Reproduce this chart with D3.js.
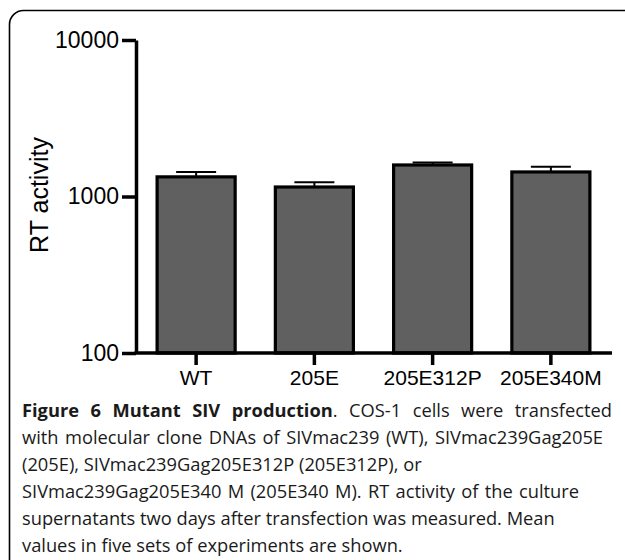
<!DOCTYPE html>
<html>
<head>
<meta charset="utf-8">
<script src="https://cdn.jsdelivr.net/npm/d3@7"></script>
<style>
  body { margin: 0; background: #fff; }
  svg { display: block; }
</style>
</head>
<body>
<div id="chart"></div>
<script>
// values (log scale)
const categories = ['WT', '205E', '205E312P', '205E340M'];
const means = [1335, 1150, 1590, 1435];
const errors = [100, 85, 60, 115];
const yTicks = [100, 1000, 10000];

const captionLines = [
    [{ t: 'Figure 6 Mutant SIV production', b: true }, { t: '. COS-1 cells were transfected' }],
    [{ t: 'with molecular clone DNAs of SIVmac239 (WT), SIVmac239Gag205E' }],
    [{ t: '(205E), SIVmac239Gag205E312P (205E312P), or' }],
    [{ t: 'SIVmac239Gag205E340 M (205E340 M). RT activity of the culture' }],
    [{ t: 'supernatants two days after transfection was measured. Mean' }],
    [{ t: 'values in five sets of experiments are shown.' }]
];
// right edge of each caption line in the figure (null = natural width)
const lineEnds = [612, 603, null, 579, null, null];

const width = 625, height = 560;

const svg = d3.select('#chart').append('svg')
    .attr('width', width)
    .attr('height', height);

// figure frame (only top & left visible in the crop)
svg.append('rect')
    .attr('x', 9.5).attr('y', 10.5)
    .attr('width', 660).attr('height', 620)
    .attr('rx', 14)
    .style('fill', 'none')
    .style('stroke', '#000')
    .style('stroke-width', 1.6);

const y = d3.scaleLog().domain([100, 10000]).range([353, 40]);
const x = d3.scaleBand().domain(categories).range([137, 610])
    .paddingInner(0.34).paddingOuter(0.17);

// bars
svg.append('g')
    .selectAll('rect')
    .data(categories)
    .join('rect')
    .attr('x', d => x(d))
    .attr('width', x.bandwidth())
    .attr('y', (d, i) => y(means[i]))
    .attr('height', (d, i) => y(100) - y(means[i]))
    .style('fill', '#606060')
    .style('stroke', '#000')
    .style('stroke-width', 3.2);

// error bars (upper only)
const err = svg.append('g').style('stroke', '#000').style('stroke-width', 2);
categories.forEach((c, i) => {
    const cx = x(c) + x.bandwidth() / 2;
    err.append('line')
        .attr('x1', cx).attr('x2', cx)
        .attr('y1', y(means[i])).attr('y2', y(means[i] + errors[i]));
    err.append('line')
        .attr('x1', cx - 20).attr('x2', cx + 20)
        .attr('y1', y(means[i] + errors[i])).attr('y2', y(means[i] + errors[i]));
});

// y axis
const yAxis = svg.append('g')
    .attr('transform', 'translate(136,0)')
    .call(d3.axisLeft(y).tickValues(yTicks).tickFormat(d3.format('d')).tickSize(14).tickSizeOuter(0).tickPadding(3));
yAxis.select('.domain').style('stroke-width', 3.5);
yAxis.selectAll('.tick line').style('stroke-width', 3.5);
yAxis.selectAll('.tick text')
    .style('font-family', 'Liberation Sans, Arial, sans-serif')
    .style('font-size', '23px')
    .style('fill', '#000');

// x axis
const xAxis = svg.append('g')
    .attr('transform', 'translate(0,353)')
    .call(d3.axisBottom(x).tickSize(12).tickSizeOuter(0).tickPadding(5));
xAxis.select('.domain').attr('d', 'M134.5,0H612').style('stroke-width', 3.5);
xAxis.selectAll('.tick line').style('stroke-width', 3.5);
xAxis.selectAll('.tick text')
    .style('font-family', 'Liberation Sans, Arial, sans-serif')
    .style('font-size', '21px')
    .style('fill', '#000');

// y label
svg.append('text')
    .attr('transform', 'translate(48,195) rotate(-90)')
    .style('text-anchor', 'middle')
    .style('font-family', 'Liberation Sans, Arial, sans-serif')
    .style('font-size', '25px')
    .text('RT activity');

// caption
const cap = svg.append('g')
    .style('font-family', 'Open Sans, sans-serif')
    .style('font-size', '18.3px')
    .style('fill', '#1a1a1a');
captionLines.forEach((parts, i) => {
    const t = cap.append('text')
        .attr('x', 22)
        .attr('y', 417 + i * 27);
    parts.forEach(p => {
        t.append('tspan')
            .style('font-weight', p.b ? 'bold' : 'normal')
            .text(p.t);
    });
    if (lineEnds[i]) {
        const words = parts.map(p => p.t).join('').split(' ').length - 1;
        const len = t.node().getComputedTextLength();
        t.style('word-spacing', ((lineEnds[i] - 22 - len) / words) + 'px');
    }
});
</script>
</body>
</html>
